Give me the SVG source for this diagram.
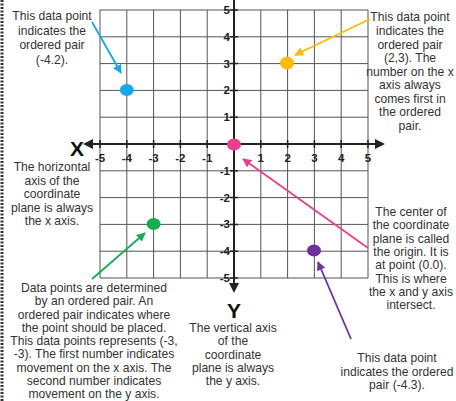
<svg xmlns="http://www.w3.org/2000/svg" width="456" height="401" viewBox="0 0 456 401">
<style>
.grid{stroke:#555;stroke-width:1;fill:none}
.axis{stroke:#222;stroke-width:2;fill:none}
.tick{stroke:#222;stroke-width:1.5}
.num{font-family:"Liberation Sans",Arial,sans-serif;font-weight:bold;font-size:11.5px;fill:#222}
.big{font-family:"Liberation Sans",Arial,sans-serif;font-weight:bold;font-size:21px;fill:#111;text-anchor:middle}
.note{font-family:"Liberation Sans",Arial,sans-serif;font-size:12.1px;fill:#333;text-anchor:middle}
.conn{stroke-width:1.8;fill:none}
</style>
<defs>
<marker id="mb" viewBox="0 0 10 10" refX="9" refY="5" markerWidth="5" markerHeight="5" orient="auto"><path d="M0,0L10,5L0,10z" fill="#11aaee"/></marker>
<marker id="my" viewBox="0 0 10 10" refX="9" refY="5" markerWidth="5" markerHeight="5" orient="auto"><path d="M0,0L10,5L0,10z" fill="#ffbb00"/></marker>
<marker id="mp" viewBox="0 0 10 10" refX="9" refY="5" markerWidth="5" markerHeight="5" orient="auto"><path d="M0,0L10,5L0,10z" fill="#ee3d8f"/></marker>
<marker id="mg" viewBox="0 0 10 10" refX="9" refY="5" markerWidth="5" markerHeight="5" orient="auto"><path d="M0,0L10,5L0,10z" fill="#12b050"/></marker>
<marker id="mv" viewBox="0 0 10 10" refX="9" refY="5" markerWidth="5" markerHeight="5" orient="auto"><path d="M0,0L10,5L0,10z" fill="#7030a0"/></marker>
<marker id="ma" viewBox="0 0 10 10" refX="5" refY="5" markerWidth="5" markerHeight="5" orient="auto"><path d="M0,0L10,5L0,10z" fill="#222"/></marker>
</defs>
<line x1="2" y1="0" x2="2" y2="401" stroke="#333" stroke-width="3" stroke-dasharray="2,1.5"/>
<g id="plane">
<path class="grid" d="M100,10V278M126.8,10V278M153.6,10V278M180.4,10V278M207.2,10V278M260.8,10V278M287.6,10V278M314.4,10V278M341.2,10V278M368,10V278M100,10H368M100,36.8H368M100,63.6H368M100,90.4H368M100,117.2H368M100,170.8H368M100,197.6H368M100,224.4H368M100,251.2H368M100,278H368"/>
<line class="axis" x1="234" y1="-2" x2="234" y2="288" marker-end="url(#ma)"/>
<line class="axis" x1="368" y1="144" x2="380" y2="144" marker-end="url(#ma)"/>
<line class="axis" x1="100" y1="144" x2="88" y2="144" marker-end="url(#ma)"/>
<line class="axis" x1="100" y1="144" x2="368" y2="144"/>
<path class="tick" d="M100,140V148M126.8,140V148M153.6,140V148M180.4,140V148M207.2,140V148M260.8,140V148M287.6,140V148M314.4,140V148M341.2,140V148M368,140V148M230,10H238M230,36.8H238M230,63.6H238M230,90.4H238M230,117.2H238M230,170.8H238M230,197.6H238M230,224.4H238M230,251.2H238M230,278H238"/>
<g class="num" text-anchor="middle">
<text x="100" y="161.5">-5</text><text x="126.8" y="161.5">-4</text><text x="153.6" y="161.5">-3</text><text x="180.4" y="161.5">-2</text><text x="207.2" y="161.5">-1</text>
<text x="260.8" y="161.5">1</text><text x="287.6" y="161.5">2</text><text x="314.4" y="161.5">3</text><text x="341.2" y="161.5">4</text><text x="368" y="161.5">5</text>
</g>
<g class="num" text-anchor="end">
<text x="230" y="14">5</text><text x="230" y="40.8">4</text><text x="230" y="67.6">3</text><text x="230" y="94.4">2</text><text x="230" y="121.2">1</text>
<text x="230" y="174.8">-1</text><text x="230" y="201.6">-2</text><text x="230" y="228.4">-3</text><text x="230" y="255.2">-4</text><text x="230" y="282">-5</text>
</g>
<text class="big" x="77" y="155.5">X</text>
<text class="big" x="234" y="318">Y</text>
</g>
<g id="connectors">
<line class="conn" stroke="#11aaee" x1="92" y1="22" x2="121" y2="73" marker-end="url(#mb)"/>
<line class="conn" stroke="#ffbb00" x1="370" y1="19" x2="295" y2="55" marker-end="url(#my)"/>
<line class="conn" stroke="#ee3d8f" x1="368" y1="248" x2="243" y2="159" marker-end="url(#mp)"/>
<line class="conn" stroke="#12b050" x1="92" y1="279" x2="145" y2="233" marker-end="url(#mg)"/>
<line class="conn" stroke="#7030a0" x1="351" y1="339" x2="318" y2="262" marker-end="url(#mv)"/>
</g>
<g id="pt-blue"><ellipse cx="126.8" cy="90" rx="7" ry="6" fill="#11aaee"/></g>
<g id="pt-yellow"><ellipse cx="287" cy="63" rx="7" ry="6.5" fill="#ffbb00"/></g>
<g id="pt-origin"><ellipse cx="234" cy="144.5" rx="7" ry="6" fill="#ee3d8f"/></g>
<g id="pt-green"><ellipse cx="153.6" cy="224" rx="7" ry="6" fill="#12b050"/></g>
<g id="pt-purple"><ellipse cx="314" cy="250.5" rx="7" ry="6" fill="#7030a0"/></g>
<g id="note-blue" class="note">
<text x="52" y="20">This data point</text><text x="52" y="35">indicates the</text><text x="52" y="49">ordered pair</text><text x="52" y="64">(-4.2).</text>
</g>
<g id="note-yellow" class="note">
<text x="410" y="21">This data point</text><text x="410" y="35">indicates the</text><text x="410" y="48.5">ordered pair</text><text x="410" y="62">(2,3). The</text><text x="410" y="75.5">number on the x</text><text x="410" y="89">axis always</text><text x="410" y="102.5">comes first in</text><text x="410" y="116">the ordered</text><text x="410" y="129.5">pair.</text>
</g>
<g id="note-xaxis" class="note">
<text x="52" y="171">The horizontal</text><text x="52" y="184.5">axis of the</text><text x="52" y="198">coordinate</text><text x="52" y="211.5">plane is always</text><text x="52" y="225">the x axis.</text>
</g>
<g id="note-green" class="note">
<text x="94" y="292">Data points are determined</text><text x="94" y="305.3">by an ordered pair. An</text><text x="94" y="318.5">ordered pair indicates where</text><text x="94" y="331.8">the point should be placed.</text><text x="94" y="345">This data points represents (-3,</text><text x="94" y="358.3">-3). The first number indicates</text><text x="94" y="371.5">movement on the x axis. The</text><text x="94" y="384.8">second number indicates</text><text x="94" y="398">movement on the y axis.</text>
</g>
<g id="note-yaxis" class="note">
<text x="233" y="332">The vertical axis</text><text x="233" y="345">of the</text><text x="233" y="358.5">coordinate</text><text x="233" y="372">plane is always</text><text x="233" y="385">the y axis.</text>
</g>
<g id="note-origin" class="note">
<text x="411" y="216">The center of</text><text x="411" y="229.3">the coordinate</text><text x="411" y="242.6">plane is called</text><text x="411" y="255.9">the origin. It is</text><text x="411" y="269.2">at point (0.0).</text><text x="411" y="282.5">This is where</text><text x="411" y="295.8">the x and y axis</text><text x="411" y="309">intersect.</text>
</g>
<g id="note-purple" class="note">
<text x="397" y="362">This data point</text><text x="397" y="375.5">indicates the ordered</text><text x="397" y="389">pair (-4.3).</text>
</g>
</svg>
